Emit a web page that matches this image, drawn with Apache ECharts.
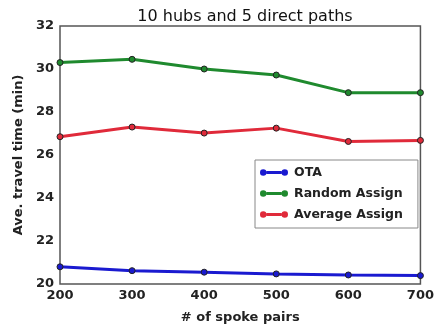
<!DOCTYPE html>
<html>
<head>
<meta charset="utf-8">
<script src="https://cdn.jsdelivr.net/npm/echarts@6/dist/echarts.min.js"></script>
<style>
  html, body { margin: 0; padding: 0; background: #fff; }
  #chart { width: 437px; height: 330px; }
</style>
</head>
<body>
<div id="chart"></div>
<script>
// Spoke-pair counts along the x axis
const spokePairs = [200, 300, 400, 500, 600, 700];
// Average travel time (minutes) per assignment strategy
const otaTimes = [20.8, 20.62, 20.55, 20.47, 20.42, 20.39];
const randomTimes = [30.3, 30.45, 30.0, 29.72, 28.9, 28.9];
const averageTimes = [26.85, 27.3, 27.02, 27.25, 26.63, 26.68];
const yTicks = [20, 22, 24, 26, 28, 30, 32];

const font = 'DejaVu Sans';

// Legend key: a short line segment with a marker at each end
const keyIcon = 'path://M1,4a3,3 0 1,0 6,0a3,3 0 1,0 -6,0Z M21,4a3,3 0 1,0 6,0a3,3 0 1,0 -6,0Z M7,2.7H21V5.3H7Z';

function lineSeries(name, values, color) {
  return {
    name: name,
    type: 'line',
    data: spokePairs.map((x, i) => [x, values[i]]),
    symbol: 'circle',
    symbolSize: 6,
    lineStyle: { color: color, width: 3 },
    itemStyle: { color: color, borderColor: '#222', borderWidth: 1 },
    emphasis: { disabled: true },
    animation: false,
    z: 3
  };
}

const chart = echarts.init(document.getElementById('chart'));
chart.setOption({
  animation: false,
  title: {
    text: '10 hubs and 5 direct paths',
    left: 240, top: 4, textAlign: 'center',
    textStyle: { fontFamily: font, fontSize: 16, fontWeight: 'normal', color: '#111' }
  },
  grid: { left: 60, right: 14, top: 26, bottom: 46, show: true, borderColor: '#555', borderWidth: 1.5 },
  xAxis: {
    type: 'value', min: 200, max: 700, interval: 100,
    name: '# of spoke pairs', nameLocation: 'middle', nameGap: 27,
    nameTextStyle: { fontFamily: font, fontSize: 13, fontWeight: 'bold', color: '#222' },
    axisLine: { show: false }, axisTick: { show: false }, splitLine: { show: false },
    axisLabel: { fontFamily: font, fontSize: 13, fontWeight: 'bold', color: '#222', margin: 5 }
  },
  yAxis: {
    type: 'value', min: 20, max: 32, interval: 2,
    name: 'Ave. travel time (min)', nameLocation: 'middle', nameGap: 35,
    nameTextStyle: { fontFamily: font, fontSize: 13, fontWeight: 'bold', color: '#222' },
    axisLine: { show: false }, axisTick: { show: false }, splitLine: { show: false },
    axisLabel: {
      fontFamily: font, fontSize: 13, fontWeight: 'bold', color: '#222', margin: 6,
      formatter: v => yTicks.includes(v) ? String(v) : ''
    }
  },
  legend: {
    orient: 'vertical', left: 255, top: 160,
    padding: [6, 15, 7, 5],
    itemGap: 8, itemWidth: 28, itemHeight: 8,
    icon: keyIcon,
    itemStyle: { borderWidth: 0 },
    lineStyle: { width: 0 },
    borderColor: '#888', borderWidth: 1, backgroundColor: '#fff',
    textStyle: { fontFamily: font, fontSize: 12.5, fontWeight: 'bold', color: '#222', padding: [0, 0, 0, 1] },
    data: ['OTA', 'Random Assign', 'Average Assign']
  },
  series: [
    lineSeries('OTA', otaTimes, '#1a1ad0'),
    lineSeries('Random Assign', randomTimes, '#1f8a2e'),
    lineSeries('Average Assign', averageTimes, '#e02a3a')
  ]
});
</script>
</body>
</html>
